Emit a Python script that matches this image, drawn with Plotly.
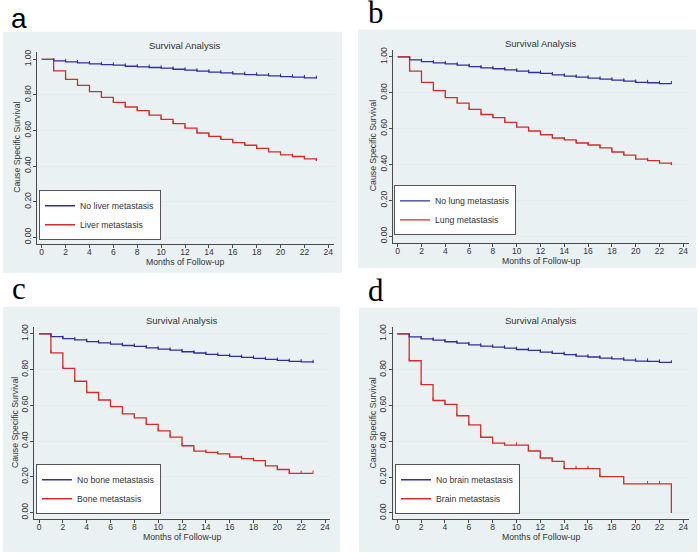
import plotly.graph_objects as go

# ---------------- data ----------------
months = list(range(24))
x_ticks = list(range(0, 25, 2))
y_ticks = [0.0, 0.2, 0.4, 0.6, 0.8, 1.0]
y_tick_labels = ["0.00", "0.20", "0.40", "0.60", "0.80", "1.00"]

panel_letters = ["a", "b", "c", "d"]
panel_title = "Survival Analysis"
x_title = "Months of Follow-up"
y_title = "Cause Specific Survival"
no_met_names = ["No liver metastasis", "No lung metastasis", "No bone metastasis", "No brain metastasis"]
met_names = ["Liver metastasis", "Lung metastasis", "Bone metastasis", "Brain metastasis"]

no_liver_surv = [1.0, 0.991, 0.985, 0.980, 0.974, 0.970, 0.967, 0.961, 0.957, 0.954, 0.950, 0.944,
                 0.939, 0.933, 0.928, 0.924, 0.918, 0.914, 0.911, 0.907, 0.903, 0.900, 0.896, 0.892]
liver_surv = [1.0, 0.935, 0.887, 0.853, 0.818, 0.786, 0.758, 0.732, 0.712, 0.686, 0.662, 0.639,
              0.613, 0.586, 0.567, 0.550, 0.532, 0.517, 0.500, 0.480, 0.463, 0.454, 0.441, 0.429]

no_lung_surv = [1.0, 0.983, 0.974, 0.967, 0.961, 0.954, 0.946, 0.939, 0.934, 0.928, 0.921, 0.913,
                0.908, 0.900, 0.893, 0.887, 0.882, 0.876, 0.871, 0.865, 0.858, 0.856, 0.851, 0.850]
lung_surv = [1.0, 0.921, 0.858, 0.812, 0.773, 0.742, 0.708, 0.679, 0.661, 0.635, 0.609, 0.587,
             0.566, 0.548, 0.537, 0.520, 0.509, 0.493, 0.470, 0.452, 0.430, 0.422, 0.408, 0.397]

no_bone_surv = [1.0, 0.985, 0.974, 0.967, 0.957, 0.950, 0.943, 0.935, 0.930, 0.922, 0.915, 0.909,
                0.900, 0.893, 0.885, 0.880, 0.874, 0.869, 0.863, 0.857, 0.852, 0.846, 0.843, 0.839]
bone_surv = [1.0, 0.894, 0.807, 0.735, 0.672, 0.630, 0.593, 0.552, 0.530, 0.494, 0.457, 0.422,
             0.374, 0.344, 0.337, 0.328, 0.311, 0.302, 0.291, 0.261, 0.241, 0.219, 0.219, 0.219]

no_brain_surv = [1.0, 0.983, 0.972, 0.965, 0.956, 0.948, 0.939, 0.932, 0.926, 0.921, 0.913, 0.908,
                 0.898, 0.891, 0.884, 0.876, 0.871, 0.865, 0.860, 0.854, 0.848, 0.847, 0.841, 0.837]
brain_surv = [1.0, 0.850, 0.717, 0.628, 0.606, 0.543, 0.492, 0.423, 0.390, 0.379, 0.379, 0.346,
              0.307, 0.288, 0.248, 0.248, 0.248, 0.203, 0.203, 0.163, 0.163, 0.163, 0.163, 0.0]

# months with a censoring tick
censor_all = list(range(1, 24))
censor_brain = [1, 2, 3, 4, 5, 6, 7, 8, 9, 10, 11, 12, 13, 14, 15, 16, 17, 19, 21, 22]

no_met_series = [no_liver_surv, no_lung_surv, no_bone_surv, no_brain_surv]
met_series = [liver_surv, lung_surv, bone_surv, brain_surv]
met_censor = [censor_all, censor_all, censor_all, censor_brain]

# ---------------- styling / geometry ----------------
W, H = 698, 553
BLUE = "#2e2ea6"
RED = "#d42c2c"
PANEL_BG = "#eaf1f3"
GRID = "#e4ebee"
AXIS = "#4a4a4a"
TXT = "#333333"
SANS = "Liberation Sans, Arial, sans-serif"
SERIF = "Liberation Serif, Times New Roman, serif"
XR = [-0.4, 24.45]
YR = [-0.035, 1.04]

# pixel positions of x=0, x=24, y=1, y=0 for each panel
geom = [(41.7, 328.3, 56.7, 236.0),
        (397.7, 683.3, 54.3, 235.0),
        (39.0, 325.0, 333.3, 513.3),
        (397.3, 683.3, 333.3, 513.7)]
bg_boxes = [(3, 29, 342, 272), (358, 27, 696, 267), (3, 306, 340, 553), (359, 307, 697, 553)]
legend_pos = [(39, 239), (394, 234), (36, 515), (395, 515)]   # left, bottom
letter_pos = [(9, 33, SANS, 28), (366, 29, SERIF, 31), (10, 307, SERIF, 31), (366, 309, SERIF, 31)]

fig = go.Figure()
layout = dict(width=W, height=H, margin=dict(l=0, r=0, t=0, b=0),
              paper_bgcolor="white", plot_bgcolor="white", showlegend=True,
              font=dict(family=SANS, color=TXT, size=9))
shapes, annotations = [], []

for i in range(4):
    s = "" if i == 0 else str(i + 1)
    x0p, x24p, y1p, y0p = geom[i]
    pxm = (x24p - x0p) / 24.0
    pxu = y0p - y1p
    left = x0p + XR[0] * pxm
    right = x0p + XR[1] * pxm
    top = y0p - YR[1] * pxu
    bottom = y0p - YR[0] * pxu
    legname = "legend" if i == 0 else "legend" + str(i + 1)

    fig.add_trace(go.Scatter(x=months, y=no_met_series[i], mode="lines", line=dict(color=BLUE, width=1.3, shape="hv"),
                             name=no_met_names[i], xaxis="x" + s, yaxis="y" + s, legend=legname, hoverinfo="skip"))
    fig.add_trace(go.Scatter(x=months, y=met_series[i], mode="lines", line=dict(color=RED, width=1.3, shape="hv"),
                             name=met_names[i], xaxis="x" + s, yaxis="y" + s, legend=legname, hoverinfo="skip"))
    # censoring ticks
    for ser, col, cm in [(no_met_series[i], BLUE, censor_all), (met_series[i], RED, met_censor[i])]:
        fig.add_trace(go.Scatter(x=cm, y=[ser[m] for m in cm], mode="markers",
                                 marker=dict(size=1, color="rgba(0,0,0,0)"),
                                 error_y=dict(type="constant", value=0.016, valueminus=0, symmetric=False,
                                              color=col, thickness=1, width=0),
                                 showlegend=False, xaxis="x" + s, yaxis="y" + s, hoverinfo="skip"))

    layout["xaxis" + s] = dict(domain=[left / W, right / W], range=XR, anchor="y" + s,
                               tickmode="array", tickvals=x_ticks, ticks="outside", ticklen=3, tickcolor=AXIS,
                               showline=True, linecolor=AXIS, linewidth=1, showgrid=False, zeroline=False,
                               tickfont=dict(size=8.5, color=TXT), ticklabelstandoff=-3)
    layout["yaxis" + s] = dict(domain=[1 - bottom / H, 1 - top / H], range=YR, anchor="x" + s,
                               tickmode="array", tickvals=y_ticks, ticktext=y_tick_labels, tickangle=-90,
                               ticks="outside", ticklen=3, tickcolor=AXIS,
                               showline=True, linecolor=AXIS, linewidth=1, showgrid=True, gridcolor=GRID,
                               zeroline=False, tickfont=dict(size=8.5, color=TXT), ticklabelstandoff=-1)
    lx, ly = legend_pos[i]
    layout[legname] = dict(x=lx / W, y=1 - ly / H, xanchor="left", yanchor="bottom", bgcolor="white",
                           bordercolor="#555555", borderwidth=1, font=dict(size=8.7, color=TXT),
                           itemwidth=30, tracegroupgap=0)

    bx0, by0, bx1, by1 = bg_boxes[i]
    shapes.append(dict(type="rect", xref="paper", yref="paper", x0=bx0 / W, x1=bx1 / W,
                       y0=1 - by1 / H, y1=1 - by0 / H, fillcolor=PANEL_BG, line=dict(width=0), layer="below"))
    cx = (left + right) / 2
    annotations.append(dict(text=panel_title, xref="paper", yref="paper", x=cx / W,
                            y=1 - (y1p - 13.5) / H, xanchor="center", yanchor="middle", showarrow=False,
                            font=dict(size=9.5, color=TXT)))
    annotations.append(dict(text=x_title, xref="paper", yref="paper", x=cx / W,
                            y=1 - (y0p + 24.5) / H, xanchor="center", yanchor="middle", showarrow=False,
                            font=dict(size=8.7, color=TXT)))
    annotations.append(dict(text=y_title, xref="paper", yref="paper", x=(x0p - 24.7) / W,
                            y=1 - ((top + bottom) / 2) / H, xanchor="center", yanchor="middle", showarrow=False,
                            textangle=-90, font=dict(size=8.7, color=TXT)))
    lx2, lby, fam, fs = letter_pos[i]
    annotations.append(dict(text=panel_letters[i], xref="paper", yref="paper", x=lx2 / W, y=1 - lby / H,
                            xanchor="left", yanchor="bottom", showarrow=False,
                            font=dict(size=fs, color="black", family=fam)))

layout["shapes"] = shapes
layout["annotations"] = annotations
fig.update_layout(**layout)
fig.write_html("out.html", config={"displayModeBar": False},
               post_script="document.body.style.margin='0';document.body.style.padding='0';"
                           "document.body.style.overflow='hidden';")
